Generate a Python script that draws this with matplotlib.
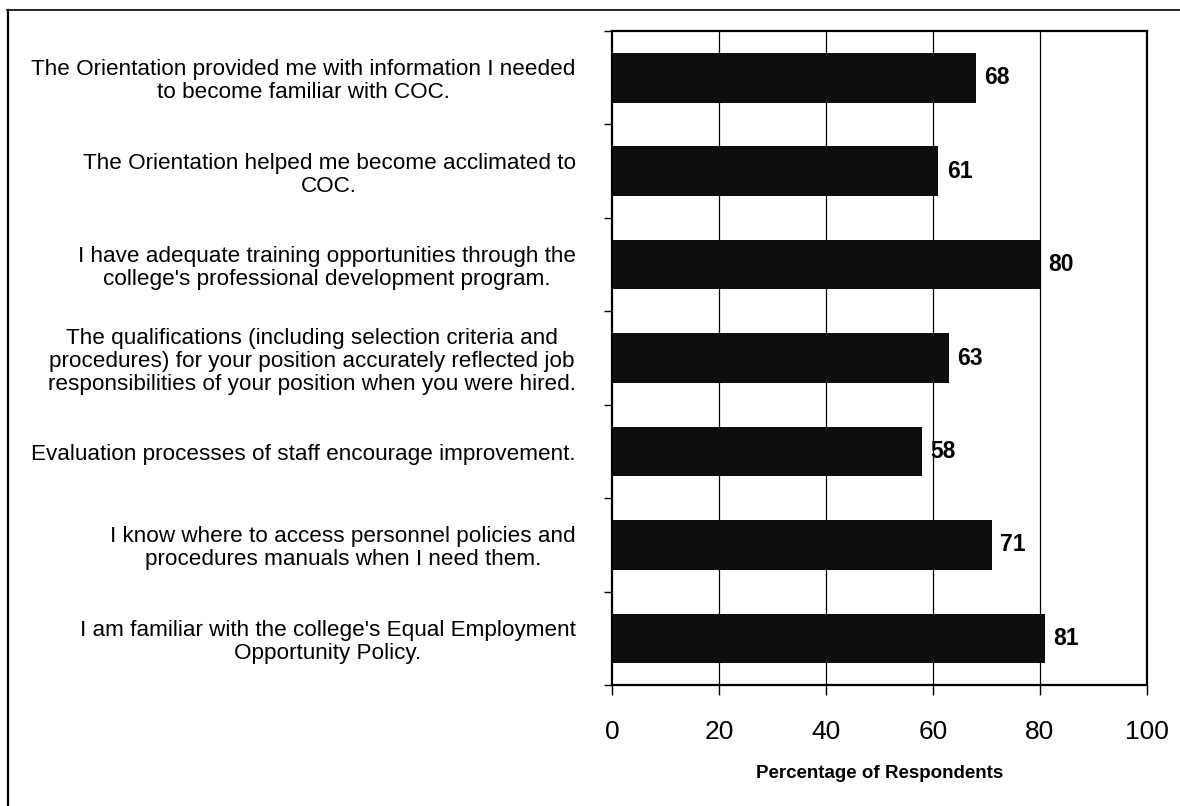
import matplotlib
matplotlib.use("Agg")
import matplotlib.pyplot as plt
from matplotlib.lines import Line2D

plt.rcParams["font.family"] = ["Liberation Sans", "DejaVu Sans"]

STATEMENTS = [
    "The Orientation provided me with information I needed\nto become familiar with COC.",
    "The Orientation helped me become acclimated to\nCOC.",
    "I have adequate training opportunities through the\ncollege's professional development program.",
    "The qualifications (including selection criteria and\nprocedures) for your position accurately reflected job\nresponsibilities of your position when you were hired.",
    "Evaluation processes of staff encourage improvement.",
    "I know where to access personnel policies and\nprocedures manuals when I need them.",
    "I am familiar with the college's Equal Employment\nOpportunity Policy.",
]
PERCENT = [68, 61, 80, 63, 58, 71, 81]
X_TICKS = [0, 20, 40, 60, 80, 100]


def draw_chart():
    fig = plt.figure(figsize=(11.8, 8.06), dpi=100)
    ax = fig.add_axes([0.5186, 0.150, 0.4534, 0.8115])

    y = list(range(len(STATEMENTS)))
    ax.barh(y, PERCENT, height=0.53, color="#0e0e0e", zorder=2)

    for yi, val in zip(y, PERCENT):
        ax.annotate(str(val), (val, yi), xytext=(6, 0), textcoords="offset points",
                    va="center", ha="left", fontsize=16.5, fontweight="bold")

    ax.set_xlim(0, 100)
    ax.set_ylim(len(STATEMENTS) - 0.5, -0.5)
    ax.set_xticks(X_TICKS)
    ax.set_xticklabels([str(t) for t in X_TICKS])

    # category ticks sit between the bars
    ax.set_yticks([i + 0.5 for i in range(-1, len(STATEMENTS))])
    ax.set_yticklabels([])
    ax.set_yticks(y, minor=True)
    ax.set_yticklabels(STATEMENTS, minor=True, fontsize=16.2,
                       multialignment="center", linespacing=1.12)
    ax.tick_params(axis="y", which="minor", length=0, pad=26)
    ax.tick_params(axis="y", which="major", length=6, width=1, direction="out")
    ax.tick_params(axis="x", length=7, width=1, direction="out", labelsize=19, pad=18)

    for gx in X_TICKS[1:-1]:
        ax.axvline(gx, color="black", linewidth=0.9, zorder=1)

    for side in ["left", "right", "top", "bottom"]:
        ax.spines[side].set_linewidth(1.6)
        ax.spines[side].set_color("black")

    ax.set_xlabel("Percentage of Respondents", fontsize=13.5, fontweight="bold", labelpad=15)

    # outer frame around the whole chart
    fig.add_artist(Line2D([7 / 1180, 1.0], [1 - 10 / 806, 1 - 10 / 806],
                          transform=fig.transFigure, color="black", linewidth=1.2))
    fig.add_artist(Line2D([8 / 1180, 8 / 1180], [0.0, 1 - 10 / 806],
                          transform=fig.transFigure, color="black", linewidth=1.6))

    fig.savefig("out.png", dpi=100)
    plt.close(fig)


if __name__ == "__main__":
    draw_chart()
